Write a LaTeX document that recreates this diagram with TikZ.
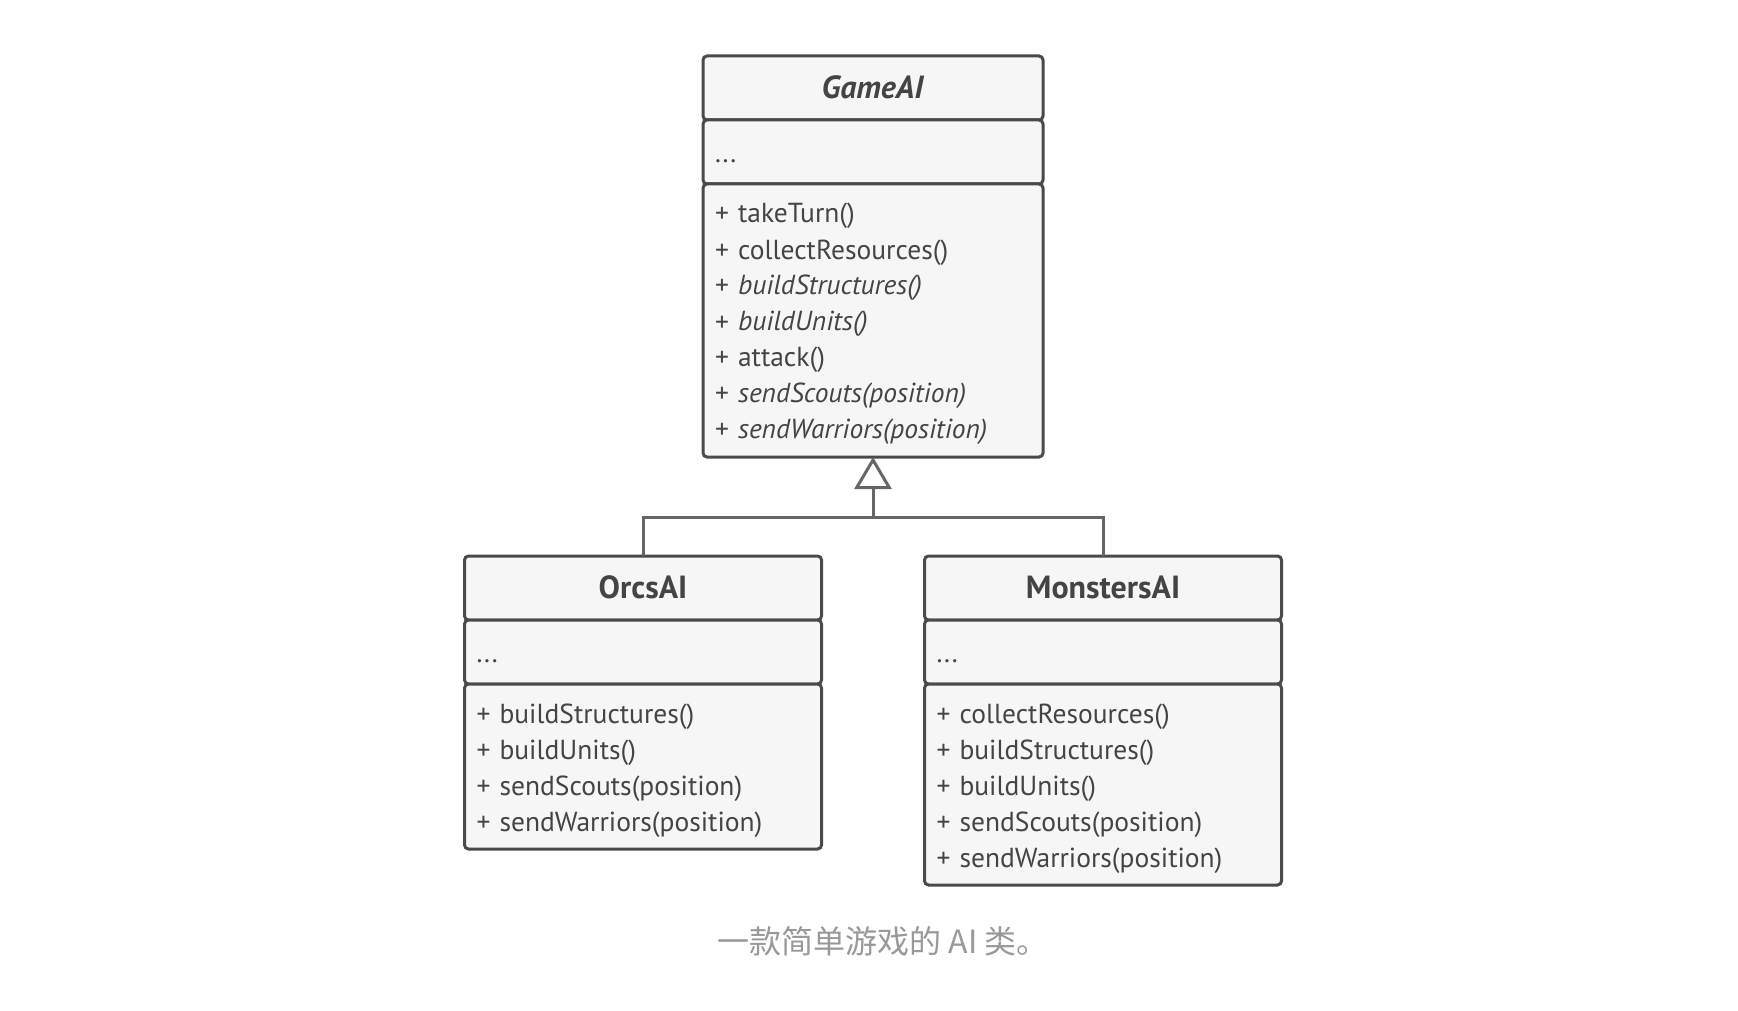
\documentclass[tikz,border=0pt]{standalone}
\usepackage{fontspec}
\setmainfont{PT Sans}
\newfontfamily\cjk{Noto Sans CJK SC}
\usetikzlibrary{arrows.meta}
\usetikzlibrary{positioning}
\definecolor{umlline}{HTML}{4A4A4A}
\definecolor{umlfill}{HTML}{F6F6F6}
\definecolor{umltext}{HTML}{444444}
\definecolor{linkgray}{HTML}{666666}
\definecolor{capgray}{HTML}{999999}
\newcommand{\umlstrut}{\rule[-7.5pt]{0pt}{36pt}}

\begin{document}
\begin{tikzpicture}[x=1pt,y=-1pt,
  part/.style={draw=umlline, fill=umlfill, line width=3pt, rounded corners=4pt,
    outer sep=0pt, inner xsep=12pt, inner ysep=10.5pt, align=left,
    text=umltext, font=\fontsize{27.5}{36}\selectfont},
  head/.style={part, align=center, inner ysep=0pt, minimum height=64pt,
    font=\fontsize{32}{36}\selectfont\bfseries},
  attr/.style={part, inner ysep=0pt, minimum height=64pt},
  link/.style={draw=linkgray, line width=3pt},
  caption/.style={anchor=base, text=capgray, font=\cjk\fontsize{32}{36}\selectfont}]
\def\wa{316pt}
\def\wb{333pt}
\useasboundingbox (0,0) rectangle (1738,1011);
% base class
\node [head, text width=\wa, name=gameT] at (873,88) {\umlstrut\textit{GameAI}};
\node [attr, text width=\wa, below=0pt of gameT, name=gameF] {\umlstrut...};
\node [part, text width=\wa, below=0pt of gameF, name=gameM] {\umlstrut+ takeTurn()\\
\umlstrut+ collectResources()\\
\umlstrut+ \textit{buildStructures()}\\
\umlstrut+ \textit{buildUnits()}\\
\umlstrut+ attack()\\
\umlstrut+ \textit{sendScouts(position)}\\
\umlstrut+ \textit{sendWarriors(position)}};
% subclasses
\node [head, text width=\wb, name=orcsT] at (643,588) {\umlstrut OrcsAI};
\node [attr, text width=\wb, below=0pt of orcsT, name=orcsF] {\umlstrut...};
\node [part, text width=\wb, below=0pt of orcsF, name=orcsM] {\umlstrut+ buildStructures()\\
\umlstrut+ buildUnits()\\
\umlstrut+ sendScouts(position)\\
\umlstrut+ sendWarriors(position)};
\node [head, text width=\wb, name=monT] at (1103,588) {\umlstrut MonstersAI};
\node [attr, text width=\wb, below=0pt of monT, name=monF] {\umlstrut...};
\node [part, text width=\wb, below=0pt of monF, name=monM] {\umlstrut+ collectResources()\\
\umlstrut+ buildStructures()\\
\umlstrut+ buildUnits()\\
\umlstrut+ sendScouts(position)\\
\umlstrut+ sendWarriors(position)};
% inheritance
\coordinate (join) at (873,517);
\draw [link] (orcsT.north) |- (join) -| (monT.north);
\draw [link, -{Triangle[length=32pt, width=37pt, fill=white]}] (join) -- (gameM.south);
\node [caption, name=cap] at (883,953) {一款简单游戏的 AI 类。};
\end{tikzpicture}
\end{document}
